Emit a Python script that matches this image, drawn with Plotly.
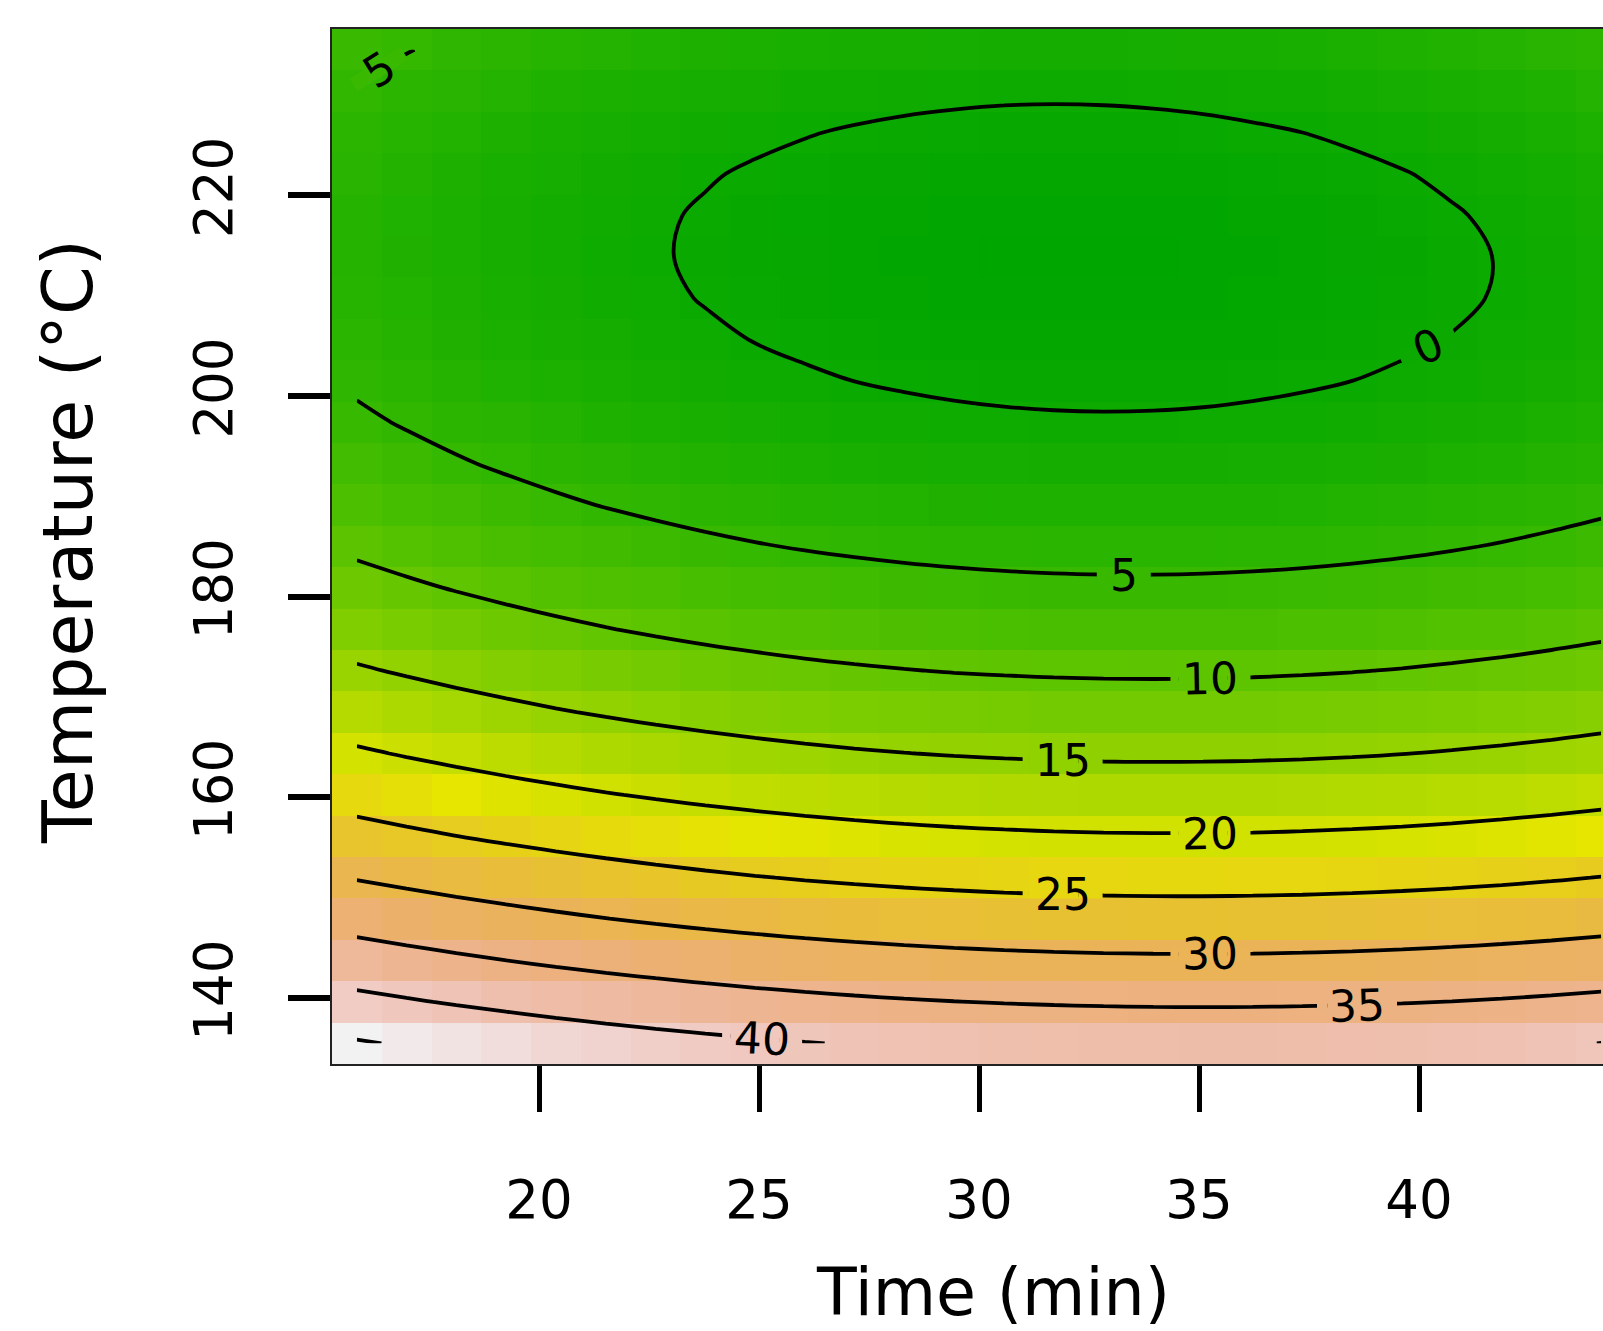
import colorsys
import math
import plotly.graph_objects as go

# ---- data ----
TIME = [15.86, 16.99, 18.12, 19.25, 20.38, 21.52, 22.65, 23.78, 24.91, 26.04, 27.17, 28.30, 29.43,
        30.57, 31.70, 32.83, 33.96, 35.09, 36.22, 37.35, 38.48, 39.62, 40.75, 41.88, 43.01, 44.14]
TEMP = [135.5, 139.625, 143.75, 147.875, 152.0, 156.125, 160.25, 164.375, 168.5, 172.625, 176.75,
        180.875, 185.0, 189.125, 193.25, 197.375, 201.5, 205.625, 209.75, 213.875, 218.0, 222.125,
        226.25, 230.375, 234.5]

R00 = [45.38, 44.61, 43.89, 43.22, 42.59, 42.01, 41.47, 40.98, 40.54, 40.14, 39.79, 39.48, 39.22, 39.01, 38.84, 38.72, 38.64, 38.61, 38.63, 38.69, 38.80, 38.95, 39.15, 39.40, 39.69, 40.03]
R01 = [41.14, 40.38, 39.67, 39.00, 38.38, 37.80, 37.27, 36.79, 36.35, 35.96, 35.61, 35.31, 35.06, 34.85, 34.69, 34.57, 34.50, 34.48, 34.50, 34.57, 34.69, 34.85, 35.05, 35.31, 35.61, 35.95]
R02 = [37.13, 36.38, 35.67, 35.01, 34.39, 33.82, 33.30, 32.82, 32.39, 32.01, 31.67, 31.37, 31.13, 30.93, 30.77, 30.66, 30.60, 30.58, 30.61, 30.69, 30.81, 30.97, 31.19, 31.45, 31.75, 32.10]
R03 = [33.36, 32.61, 31.91, 31.26, 30.65, 30.08, 29.56, 29.09, 28.67, 28.29, 27.96, 27.67, 27.43, 27.23, 27.08, 26.98, 26.92, 26.91, 26.95, 27.03, 27.16, 27.33, 27.55, 27.81, 28.13, 28.48]
R04 = [29.80, 29.06, 28.36, 27.71, 27.11, 26.55, 26.04, 25.57, 25.15, 24.78, 24.45, 24.17, 23.94, 23.75, 23.61, 23.51, 23.46, 23.45, 23.50, 23.58, 23.72, 23.90, 24.12, 24.39, 24.71, 25.08]
R05 = [26.47, 25.73, 25.04, 24.40, 23.80, 23.25, 22.75, 22.29, 21.87, 21.51, 21.18, 20.91, 20.68, 20.50, 20.36, 20.27, 20.23, 20.23, 20.27, 20.37, 20.51, 20.69, 20.93, 21.20, 21.53, 21.90]
R06 = [23.36, 22.63, 21.95, 21.31, 20.72, 20.18, 19.68, 19.22, 18.82, 18.46, 18.14, 17.87, 17.65, 17.48, 17.35, 17.26, 17.22, 17.23, 17.28, 17.39, 17.53, 17.72, 17.96, 18.25, 18.58, 18.95]
R07 = [20.47, 19.75, 19.07, 18.44, 17.86, 17.32, 16.82, 16.38, 15.98, 15.62, 15.31, 15.05, 14.84, 14.67, 14.54, 14.46, 14.43, 14.45, 14.51, 14.61, 14.76, 14.96, 15.21, 15.50, 15.83, 16.22]
R08 = [17.81, 17.10, 16.43, 15.80, 15.22, 14.69, 14.20, 13.76, 13.37, 13.02, 12.72, 12.46, 12.25, 12.09, 11.97, 11.90, 11.87, 11.89, 11.96, 12.07, 12.23, 12.43, 12.68, 12.98, 13.32, 13.71]
R09 = [15.37, 14.66, 13.99, 13.38, 12.80, 12.28, 11.80, 11.36, 10.98, 10.63, 10.34, 10.09, 9.88, 9.73, 9.62, 9.55, 9.53, 9.56, 9.63, 9.75, 9.91, 10.12, 10.38, 10.68, 11.03, 11.43]
R10 = [13.16, 12.46, 11.80, 11.19, 10.62, 10.10, 9.63, 9.20, 8.82, 8.48, 8.19, 7.95, 7.75, 7.60, 7.49, 7.43, 7.42, 7.45, 7.53, 7.66, 7.83, 8.05, 8.31, 8.62, 8.97, 9.37]
R11 = [11.18, 10.48, 9.83, 9.22, 8.66, 8.15, 7.68, 7.26, 6.88, 6.55, 6.27, 6.03, 5.84, 5.69, 5.59, 5.54, 5.53, 5.57, 5.66, 5.79, 5.97, 6.19, 6.46, 6.77, 7.13, 7.54]
R12 = [9.41, 8.72, 8.07, 7.47, 6.92, 6.41, 5.95, 5.53, 5.16, 4.84, 4.56, 4.33, 4.15, 4.01, 3.91, 3.87, 3.87, 3.91, 4.00, 4.14, 4.32, 4.55, 4.83, 5.15, 5.52, 5.93]
R13 = [7.87, 7.18, 6.55, 5.95, 5.40, 4.90, 4.45, 4.04, 3.68, 3.36, 3.09, 2.86, 2.68, 2.55, 2.46, 2.42, 2.43, 2.48, 2.58, 2.72, 2.91, 3.15, 3.43, 3.76, 4.13, 4.55]
R14 = [6.56, 5.88, 5.24, 4.66, 4.12, 3.62, 3.17, 2.77, 2.41, 2.10, 1.84, 1.62, 1.44, 1.32, 1.24, 1.20, 1.21, 1.27, 1.37, 1.52, 1.72, 1.96, 2.25, 2.58, 2.96, 3.39]
R15 = [5.46, 4.79, 4.16, 3.58, 3.05, 2.56, 2.11, 1.72, 1.37, 1.06, 0.80, 0.59, 0.42, 0.30, 0.23, 0.20, 0.22, 0.28, 0.39, 0.55, 0.75, 1.00, 1.29, 1.63, 2.02, 2.45]
R16 = [4.59, 3.92, 3.30, 2.72, 2.20, 1.71, 1.28, 0.89, 0.54, 0.24, -0.01, -0.22, -0.38, -0.49, -0.56, -0.58, -0.56, -0.49, -0.37, -0.21, 0.00, 0.26, 0.56, 0.90, 1.30, 1.74]
R17 = [3.94, 3.28, 2.67, 2.10, 1.58, 1.10, 0.67, 0.29, -0.05, -0.34, -0.59, -0.79, -0.94, -1.05, -1.11, -1.13, -1.10, -1.02, -0.90, -0.73, -0.52, -0.26, 0.05, 0.40, 0.80, 1.25]
R18 = [3.52, 2.87, 2.26, 1.70, 1.18, 0.71, 0.29, -0.09, -0.42, -0.71, -0.95, -1.14, -1.29, -1.39, -1.45, -1.46, -1.42, -1.34, -1.21, -1.04, -0.82, -0.55, -0.24, 0.12, 0.53, 0.98]
R19 = [3.34, 2.69, 2.08, 1.53, 1.02, 0.55, 0.14, -0.24, -0.56, -0.84, -1.08, -1.27, -1.41, -1.50, -1.55, -1.56, -1.51, -1.43, -1.29, -1.11, -0.88, -0.61, -0.29, 0.07, 0.49, 0.94]
R20 = [3.36, 2.72, 2.12, 1.57, 1.07, 0.61, 0.20, -0.17, -0.49, -0.76, -0.99, -1.17, -1.30, -1.39, -1.44, -1.43, -1.38, -1.29, -1.15, -0.96, -0.73, -0.45, -0.12, 0.25, 0.67, 1.13]
R21 = [3.61, 2.98, 2.39, 1.84, 1.35, 0.89, 0.49, 0.13, -0.19, -0.45, -0.67, -0.85, -0.98, -1.06, -1.10, -1.09, -1.03, -0.93, -0.79, -0.59, -0.35, -0.07, 0.26, 0.64, 1.07, 1.54]
R22 = [4.09, 3.46, 2.87, 2.33, 1.84, 1.40, 1.00, 0.64, 0.34, 0.08, -0.14, -0.31, -0.43, -0.51, -0.54, -0.52, -0.46, -0.36, -0.20, 0.00, 0.24, 0.53, 0.87, 1.26, 1.69, 2.16]
R23 = [4.78, 4.16, 3.58, 3.05, 2.57, 2.13, 1.74, 1.39, 1.09, 0.83, 0.62, 0.46, 0.35, 0.27, 0.25, 0.27, 0.34, 0.45, 0.61, 0.82, 1.07, 1.37, 1.71, 2.10, 2.54, 3.02]
R24 = [5.71, 5.09, 4.52, 4.00, 3.52, 3.08, 2.70, 2.36, 2.06, 1.81, 1.61, 1.45, 1.34, 1.28, 1.26, 1.29, 1.36, 1.48, 1.65, 1.86, 2.12, 2.42, 2.77, 3.17, 3.61, 4.10]

Z_ROWS = [R00, R01, R02, R03, R04, R05, R06, R07, R08, R09, R10, R11, R12,
          R13, R14, R15, R16, R17, R18, R19, R20, R21, R22, R23, R24]

X_TICKS = [20, 25, 30, 35, 40]
Y_TICKS = [140, 160, 180, 200, 220]
LEVEL_START, LEVEL_END, LEVEL_STEP = 0, 45, 5
X_TITLE = "Time (min)"
Y_TITLE = "Temperature (°C)"

# contour label placement (text, time, temperature, rotation in degrees)
LABEL_PLACES = [
    ("0", 40.2, 204.9, -24),
    ("5", 33.29, 182.15, 0),
    ("10", 35.26, 171.85, -1),
    ("15", 31.9, 163.65, 0),
    ("20", 35.26, 156.44, -1),
    ("25", 31.9, 150.35, 0),
    ("30", 35.26, 144.40, -1),
    ("35", 38.59, 139.3, -2),
    ("40", 25.07, 135.98, 3),
    ("5", 16.36, 232.55, -32),
]

# ---- style / geometry ----
FONT = "DejaVu Sans"
W, H = 1603, 1331
L, R, T, B = 332, 0, 29, 267
PLOT_W = W - L - R
PLOT_H = H - T - B
PX_PER_MIN = 44.0


def edges(c):
    e = [c[0] - (c[1] - c[0]) / 2]
    e += [(a + b) / 2 for a, b in zip(c[:-1], c[1:])]
    e.append(c[-1] + (c[-1] - c[-2]) / 2)
    return e


X_EDGES = edges(TIME)
Y_EDGES = edges(TEMP)
X_RANGE = [X_EDGES[0], X_EDGES[0] + PLOT_W / PX_PER_MIN]
Y_RANGE = [Y_EDGES[0], Y_EDGES[-1]]
PX_PER_DEG = PLOT_H / (Y_RANGE[1] - Y_RANGE[0])


def terrain_stops(n=81):
    """R's terrain.colors ramp."""
    out = []
    for i in range(n):
        f = i / (n - 1)
        if f <= 0.5:
            p = f / 0.5
            h, s, v = 1 / 3 - p / 6, 1.0, 0.65 + 0.25 * p
        else:
            p = (f - 0.5) / 0.5
            h, s, v = (1 / 6) * (1 - p), 1.0 - p, 0.90 + 0.05 * p
        r, g, b = colorsys.hsv_to_rgb(h, s, v)
        out.append((f, (r * 255, g * 255, b * 255)))
    return out


STOPS = terrain_stops()
COLORSCALE = [[f, "rgb(%d,%d,%d)" % tuple(round(c) for c in rgb)] for f, rgb in STOPS]
ZMIN = min(min(r) for r in Z_ROWS)
ZMAX = max(max(r) for r in Z_ROWS)


def color_of(z):
    f = (z - ZMIN) / (ZMAX - ZMIN)
    f = max(0.0, min(1.0, f))
    for (f0, c0), (f1, c1) in zip(STOPS[:-1], STOPS[1:]):
        if f <= f1:
            u = (f - f0) / (f1 - f0) if f1 > f0 else 0
            rgb = [round(a + (b - a) * u) for a, b in zip(c0, c1)]
            return "rgb(%d,%d,%d)" % tuple(rgb)
    return "rgb(%d,%d,%d)" % tuple(round(c) for c in STOPS[-1][1])


def cell_index(v, e):
    for k in range(len(e) - 1):
        if e[k] <= v < e[k + 1]:
            return k
    return len(e) - 2


fig = go.Figure()
fig.add_trace(go.Heatmap(
    x=TIME, y=TEMP, z=Z_ROWS, zmin=ZMIN, zmax=ZMAX,
    colorscale=COLORSCALE, showscale=False, zsmooth=False, hoverinfo="skip",
))
fig.add_trace(go.Contour(
    x=TIME, y=TEMP, z=Z_ROWS,
    contours=dict(start=LEVEL_START, end=LEVEL_END, size=LEVEL_STEP,
                  coloring="none", showlabels=False),
    line=dict(color="black", width=3.8),
    showscale=False, hoverinfo="skip",
))

# break contour lines under their labels (as R's contour() does)
shapes = []
annotations = []
for text, tx, ty, ang in LABEL_PLACES:
    gap_px = 60 if len(text) == 1 else 80
    hgt_px = 15
    if abs(ang) <= 5:
        gap_px = 54 if len(text) == 1 else 80
        x0 = tx - gap_px / 2 / PX_PER_MIN
        x1 = tx + gap_px / 2 / PX_PER_MIN
        y0 = ty - hgt_px / 2 / PX_PER_DEG
        y1 = ty + hgt_px / 2 / PX_PER_DEG
        for j in range(len(X_EDGES) - 1):
            cx0, cx1 = max(x0, X_EDGES[j]), min(x1, X_EDGES[j + 1])
            if cx1 <= cx0:
                continue
            for i in range(len(Y_EDGES) - 1):
                cy0, cy1 = max(y0, Y_EDGES[i]), min(y1, Y_EDGES[i + 1])
                if cy1 <= cy0:
                    continue
                shapes.append(dict(type="rect", xref="x", yref="y", layer="above",
                                   x0=cx0, x1=cx1, y0=cy0, y1=cy1,
                                   fillcolor=color_of(Z_ROWS[i][j]), line=dict(width=0)))
    else:
        a = math.radians(-ang)
        ux, uy = math.cos(a), math.sin(a)
        vx, vy = -math.sin(a), math.cos(a)
        hw, hh = gap_px / 2, hgt_px / 2
        pts = []
        for sx, sy in ((-1, -1), (1, -1), (1, 1), (-1, 1)):
            px = sx * hw * ux + sy * hh * vx
            py = sx * hw * uy + sy * hh * vy
            pts.append((tx + px / PX_PER_MIN, ty + py / PX_PER_DEG))
        path = "M " + " L ".join("%.4f,%.4f" % p for p in pts) + " Z"
        i = cell_index(ty, Y_EDGES)
        j = cell_index(tx, X_EDGES)
        shapes.append(dict(type="path", xref="x", yref="y", layer="above", path=path,
                           fillcolor=color_of(Z_ROWS[i][j]), line=dict(width=0)))
    annotations.append(dict(text=text, x=tx, y=ty, xref="x", yref="y",
                            showarrow=False, textangle=ang,
                            xanchor="center", yanchor="middle",
                            font=dict(family=FONT, size=44, color="black")))

annotations += [
    dict(text=X_TITLE, xref="paper", yref="paper",
         x=(993 - L) / PLOT_W, y=(H - B - 1292) / PLOT_H,
         xanchor="center", yanchor="middle", showarrow=False,
         font=dict(family=FONT, size=65, color="black")),
    dict(text=Y_TITLE, xref="paper", yref="paper",
         x=(68 - L) / PLOT_W, y=(H - B - 542) / PLOT_H,
         xanchor="center", yanchor="middle", showarrow=False, textangle=-90,
         font=dict(family=FONT, size=70, color="black")),
]

fig.update_layout(
    width=W, height=H,
    margin=dict(l=L, r=R, t=T, b=B),
    paper_bgcolor="white", plot_bgcolor="white",
    showlegend=False,
    font=dict(family=FONT, color="black"),
    xaxis=dict(
        range=X_RANGE,
        tickvals=X_TICKS, ticks="outside", ticklen=46, tickwidth=5,
        tickcolor="black", showline=True, linecolor="#222", linewidth=2,
        mirror=True, showgrid=False, zeroline=False,
        tickfont=dict(family=FONT, size=53, color="black"),
        ticklabelstandoff=42,
    ),
    yaxis=dict(
        range=Y_RANGE,
        tickvals=Y_TICKS, ticks="outside", ticklen=42, tickwidth=6,
        tickcolor="black", showline=True, linecolor="#222", linewidth=2,
        mirror=False, showgrid=False, zeroline=False, tickangle=-90,
        tickfont=dict(family=FONT, size=53, color="black"),
        ticklabelstandoff=35,
    ),
    shapes=shapes,
    annotations=annotations,
)

fig.write_html(
    "out.html",
    config={"displayModeBar": False},
    post_script="document.body.style.margin='0';document.body.style.overflow='hidden';",
)
